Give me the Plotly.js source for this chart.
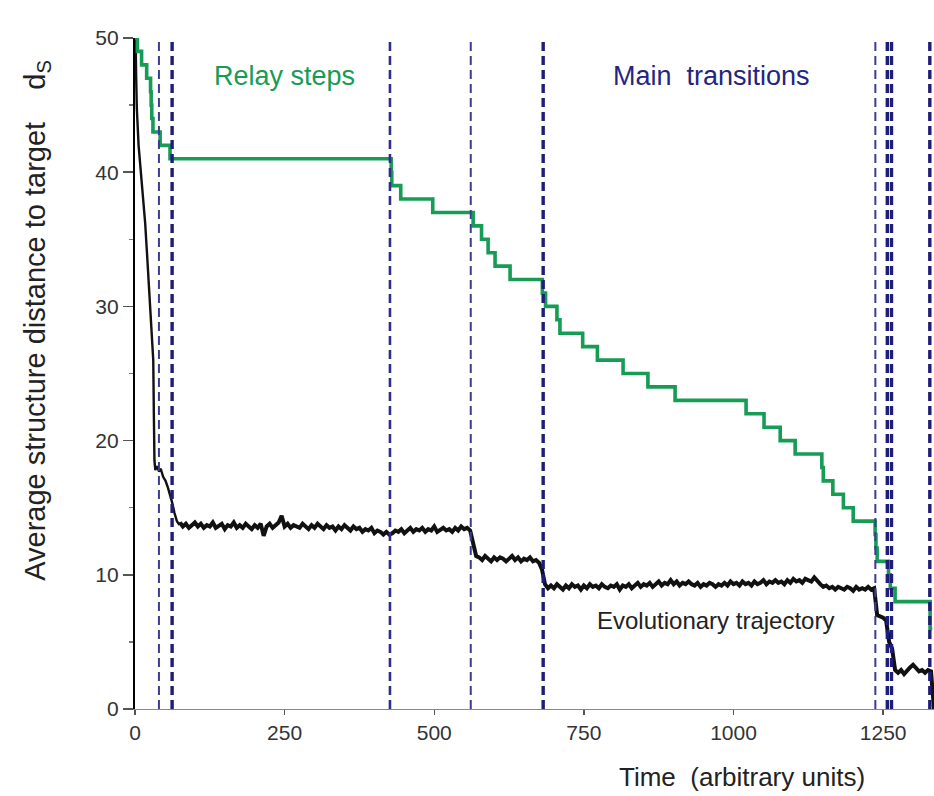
<!DOCTYPE html>
<html>
<head>
<meta charset="utf-8">
<script src="https://cdn.plot.ly/plotly-3.0.1.min.js"></script>
<style>
  html, body { margin: 0; padding: 0; background: #ffffff; }
  #chart { width: 934px; height: 796px; }
</style>
</head>
<body>
<div id="chart"></div>
<script>
// ---------- data ----------
// Relay-step (green) staircase: time at which each level starts, and level
const greenTime = [0,4,11,19.5,26,27,28,30,42,58.5,428,429,444,497.5,565,579,590,601.6,626.7,680.6,686,705,710,748,772.6,815.5,857,902.4,1021,1051,1078,1103,1147.6,1150,1166,1183.6,1200,1236.6,1238,1240,1259,1262,1270,1328.5,1332];
const greenValue = [50,49,48,47,46,45,44,43,42,41,40,39,38,37,36,35,34,33,32,31,30,29,28,27,26,25,24,23,22,21,20,19,18,17,16,15,14,13,12,11,10,9,8,6,6];

// Evolutionary trajectory, initial fast descent
const trajEarlyTime = [0,1,2,3,6,8,11,14,17,20,24,27,30.5,31.5,32.5,34,37,40,43,47,51,55,59,62,66,70,73,75];
const trajEarlyValue = [50,50,47,44.8,42,41,39.5,37.9,36.2,34,31.2,28.5,26,22,18.5,17.8,18.1,17.7,17.9,17.3,17.0,16.5,15.9,15.4,14.6,14.0,13.8,13.9];

// Evolutionary trajectory, sampled every 5 time units from t = 75 to 1335
const trajStart = 75;
const trajStep = 5;
const trajValue = [
  13.9,13.6,13.8,13.5,13.7,13.9,13.6,13.8,13.5,13.7,
  13.6,13.9,13.5,13.7,13.8,13.4,13.7,13.6,13.9,13.5,
  13.7,13.5,13.8,13.6,13.4,13.7,13.5,13.8,12.9,13.6,
  13.8,13.5,13.7,13.9,14.4,13.6,13.8,13.5,13.7,13.6,
  13.5,13.8,13.6,13.4,13.7,13.5,13.8,13.6,13.4,13.7,
  13.5,13.6,13.3,13.6,13.4,13.7,13.5,13.3,13.6,13.4,
  13.5,13.2,13.4,13.3,13.5,13.1,13.3,13.2,13.0,13.2,
  13.0,13.1,13.3,13.2,13.4,13.1,13.3,13.5,13.2,13.4,
  13.3,13.5,13.2,13.4,13.3,13.6,13.2,13.4,13.5,13.3,
  13.4,13.2,13.5,13.3,13.6,13.4,13.5,13.3,12.4,11.4,
  11.3,11.1,11.4,11.2,11.0,11.3,11.1,11.3,11.2,11.0,
  11.2,11.4,11.1,11.3,11.0,11.2,11.1,11.3,11.0,11.1,
  10.9,10.4,9.3,9.0,9.2,9.0,9.3,9.1,8.9,9.2,
  9.0,9.3,9.1,9.2,8.9,9.2,9.0,9.3,9.1,9.2,
  9.0,9.3,9.1,9.0,9.2,9.1,9.3,8.9,9.2,9.1,
  9.3,9.0,9.2,9.4,9.1,9.3,9.2,9.4,9.1,9.3,
  9.5,9.2,9.4,9.3,9.6,9.3,9.5,9.2,9.4,9.3,
  9.5,9.3,9.2,9.4,9.1,9.3,9.2,9.4,9.3,9.1,
  9.3,9.2,9.4,9.2,9.5,9.3,9.4,9.2,9.5,9.3,
  9.4,9.2,9.5,9.3,9.4,9.6,9.3,9.5,9.4,9.6,
  9.4,9.5,9.3,9.6,9.4,9.7,9.5,9.6,9.4,9.7,
  9.6,9.5,9.8,9.5,9.3,9.1,9.2,9.0,9.1,8.9,
  9.1,9.0,8.9,9.1,9.0,8.8,9.1,8.9,9.0,8.9,
  9.1,8.9,9.0,7.0,6.9,6.8,6.6,5.0,4.5,2.9,
  2.7,2.9,2.6,2.8,3.1,3.3,3.0,2.8,2.9,2.7,
  2.9,2.8,0
];

// Vertical dashed markers
const relayLines = [40, 561, 1237];            // thin, lighter
const mediumLines = [426];                     // medium
const mainLines = [62, 682, 1257, 1264, 1328]; // thick, dark

const xTicks = [0, 250, 500, 750, 1000, 1250];
const yTicks = [0, 10, 20, 30, 40, 50];

// ---------- styling ----------
const green = '#169c55';
const navy = '#1e1e78';
const navyLight = '#3c3c92';
const font = '"Liberation Sans", Arial, sans-serif';

const shapes = [];
function addLines(arr, color, width) {
  arr.forEach(function (t) {
    shapes.push({
      type: 'line', xref: 'x', yref: 'paper',
      x0: t, x1: t, y0: 0, y1: 1,
      line: { color: color, width: width, dash: '9px,5px' },
      layer: 'above'
    });
  });
}
addLines(relayLines, navyLight, 2);
addLines(mediumLines, '#2e2e88', 2.6);
addLines(mainLines, navy, 3.4);

const traces = [
  {
    x: trajEarlyTime, y: trajEarlyValue, type: 'scatter', mode: 'lines',
    line: { color: '#111111', width: 2.4 }, hoverinfo: 'skip', showlegend: false
  },
  {
    x0: trajStart, dx: trajStep, y: trajValue, type: 'scatter', mode: 'lines',
    line: { color: '#111111', width: 4 }, hoverinfo: 'skip', showlegend: false
  },
  {
    x: greenTime, y: greenValue, type: 'scatter', mode: 'lines',
    line: { color: green, width: 3.6, shape: 'hv' }, hoverinfo: 'skip', showlegend: false
  }
];

const layout = {
  width: 934, height: 796,
  margin: { l: 135, r: 0, t: 38, b: 87 },
  paper_bgcolor: '#ffffff', plot_bgcolor: '#ffffff',
  font: { family: font, color: '#333333' },
  showlegend: false,
  xaxis: {
    range: [0, 1335], tickvals: xTicks, ticktext: xTicks.map(String),
    ticks: 'outside', ticklen: 5, tickwidth: 1.5, tickcolor: '#555555',
    showline: true, linecolor: '#888888', linewidth: 1.2,
    showgrid: false, zeroline: false,
    tickfont: { size: 21, color: '#333333', family: font }
  },
  yaxis: {
    range: [0, 50], tickvals: yTicks, ticktext: yTicks.map(String),
    ticks: 'outside', ticklen: 10, tickwidth: 1.5, tickcolor: '#555555',
    minor: { dtick: 5, ticks: 'outside', ticklen: 4, tickcolor: '#777777' },
    showline: true, linecolor: '#000000', linewidth: 2.2,
    showgrid: false, zeroline: false,
    tickfont: { size: 21, color: '#333333', family: font }
  },
  shapes: shapes,
  annotations: [
    { text: 'Relay steps', xref: 'x', yref: 'y', x: 250, y: 47.2, showarrow: false,
      xanchor: 'center', yanchor: 'middle',
      font: { size: 27, color: green, family: font } },
    { text: 'Main  transitions', xref: 'x', yref: 'y', x: 963, y: 47.2, showarrow: false,
      xanchor: 'center', yanchor: 'middle',
      font: { size: 27, color: '#25257f', family: font } },
    { text: 'Evolutionary trajectory', xref: 'x', yref: 'y', x: 970, y: 6.6, showarrow: false,
      xanchor: 'center', yanchor: 'middle',
      font: { size: 24, color: '#222222', family: font } },
    { text: 'Time  (arbitrary units)', xref: 'paper', yref: 'paper', x: 0.76, y: -0.102,
      xanchor: 'center', yanchor: 'middle',
      showarrow: false, font: { size: 26, color: '#222222', family: font } },
    { text: 'Average structure distance to target    d<sub>S</sub>', xref: 'paper', yref: 'paper',
      x: -0.1227, y: 0.58, textangle: -90, showarrow: false,
      xanchor: 'center', yanchor: 'middle',
      font: { size: 29, color: '#222222', family: font } }
  ]
};

Plotly.newPlot('chart', traces, layout, { staticPlot: true, displayModeBar: false });
</script>
</body>
</html>
